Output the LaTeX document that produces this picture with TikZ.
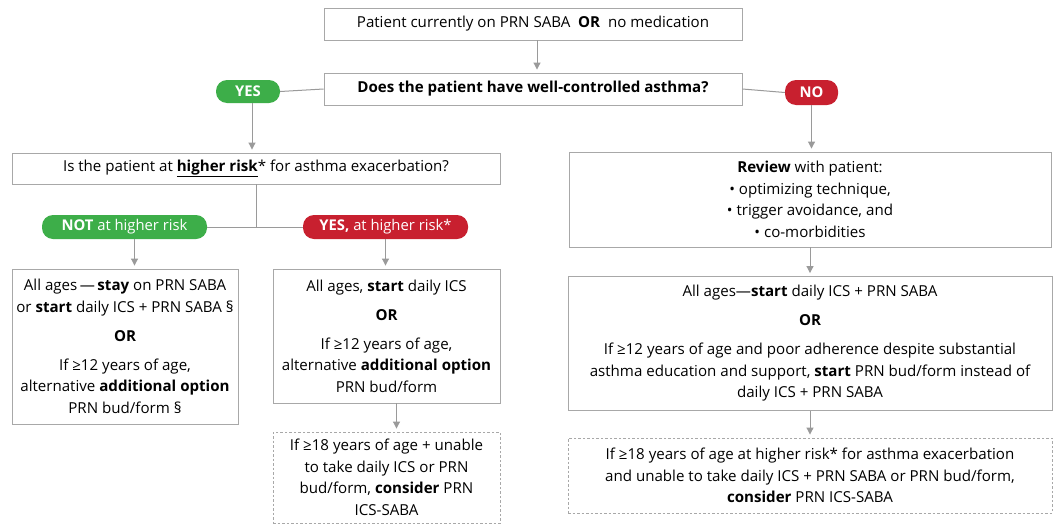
\documentclass[tikz,border=0pt]{standalone}
\usepackage{fontspec}
\setmainfont{Open Sans}
\usetikzlibrary{arrows.meta}
\definecolor{boxgray}{HTML}{A8A8A8}
\definecolor{linegray}{HTML}{9A9A9A}
\definecolor{pillgreen}{HTML}{3DAE49}
\definecolor{pillred}{HTML}{C8202F}
\tikzset{
  box/.style={draw=boxgray, line width=0.9pt, align=center, inner sep=0pt, font=\fontsize{15.1}{21.5}\selectfont},
  dbox/.style={box, dashed, dash pattern=on 2.5pt off 2pt},
  pill/.style={rounded corners=11pt, text=white, inner sep=0pt, font=\fontsize{14.8}{17}\selectfont},
  gpill/.style={pill, fill=pillgreen},
  rpill/.style={pill, fill=pillred},
  conn/.style={draw=linegray, line width=1pt},
  arr/.style={conn, -{Triangle[length=7pt,width=7pt]}, shorten >=3pt},
}
\newcommand{\orgap}{\\[7.5pt]\textbf{OR}\\[7.5pt]}
\begin{document}
\begin{tikzpicture}[x=1pt,y=-1pt]
\useasboundingbox (0,0) rectangle (1054,525);
\fill[white] (0,0) rectangle (1054,525);

\node[box, minimum width=418pt, minimum height=32pt] (top) at (533,24) {Patient currently on PRN SABA\ \ \textbf{OR}\ \ no medication};
\node[box, minimum width=418pt, minimum height=32pt] (q) at (533,89) {\textbf{Does the patient have well-controlled asthma?}};
\node[gpill, minimum width=64pt, minimum height=23pt] (yes) at (248,91.5) {\textbf{YES}};
\node[rpill, minimum width=53pt, minimum height=25pt] (no) at (811.5,92.5) {\textbf{NO}};

\node[box, minimum width=488pt, minimum height=31pt] (risk) at (256,168.5) {Is the patient at \underline{\textbf{higher risk}}* for asthma exacerbation?};
\node[gpill, minimum width=165pt, minimum height=24pt] (notp) at (124.5,227) {\textbf{NOT} at higher risk};
\node[rpill, minimum width=165pt, minimum height=24pt] (yesr) at (385.5,227) {\textbf{YES,} at higher risk*};

\node[box, minimum width=226pt, minimum height=155pt] (left) at (125,346.5) {All ages\,---\,\textbf{stay} on PRN SABA\\or \textbf{start} daily ICS + PRN SABA §\orgap If ≥12 years of age,\\alternative \textbf{additional option}\\PRN bud/form §};
\node[box, minimum width=227pt, minimum height=134pt] (mid) at (386.5,336) {All ages, \textbf{start} daily ICS\orgap If ≥12 years of age,\\alternative \textbf{additional option}\\PRN bud/form};
\node[dbox, minimum width=227pt, minimum height=91pt] (dmid) at (386.5,477.5) {If ≥18 years of age + unable\\to take daily ICS or PRN\\bud/form, \textbf{consider} PRN\\ICS-SABA};

\node[box, minimum width=482pt, minimum height=95pt] (review) at (810,199.5) {\textbf{Review} with patient:\\• optimizing technique,\\• trigger avoidance, and\\• co-morbidities};
\node[box, minimum width=484pt, minimum height=134pt] (start) at (810,343.5) {All ages---\textbf{start} daily ICS + PRN SABA\orgap If ≥12 years of age and poor adherence despite substantial\\asthma education and support, \textbf{start} PRN bud/form instead of\\daily ICS + PRN SABA};
\node[dbox, minimum width=484pt, minimum height=75pt] (dright) at (810,475.5) {If ≥18 years of age at higher risk* for asthma exacerbation\\and unable to take daily ICS + PRN SABA or PRN bud/form,\\\textbf{consider} PRN ICS-SABA};

\coordinate (jn) at (risk.south |- notp.east);

\draw[arr] (top.south) ++(4,0) coordinate (ta) -- (ta |- q.north);
\draw[conn] (q.west) -- (yes.east);
\draw[conn] (q.east) -- (no.west);
\draw[arr] (yes.south) ++(4,0) coordinate (ya) -- (ya |- risk.north);
\draw[arr] (no.south) -- (no.south |- review.north);
\draw[conn] (risk.south) -- (jn);
\draw[conn] (notp.east) -- (yesr.west);
\draw[arr] (notp.south) ++(10,0) coordinate (na) -- (na |- left.north);
\draw[arr] (yesr.south) -- (yesr.south |- mid.north);
\draw[arr] (mid.south) ++(10,0) coordinate (ma) -- (ma |- dmid.north);
\draw[arr] (review.south) -- (start.north);
\draw[arr] (start.south) -- (dright.north);
\end{tikzpicture}
\end{document}
